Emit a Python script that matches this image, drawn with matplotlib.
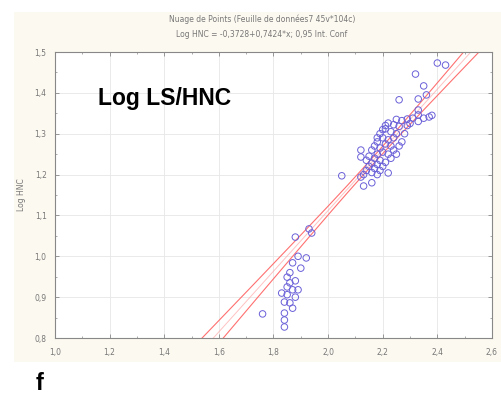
import numpy as np
import matplotlib
matplotlib.use("Agg")
import matplotlib.pyplot as plt
from matplotlib.patches import Rectangle

# Log LS vs Log HNC scatter, upper (main) group
ls_hi = [2.40, 2.43, 2.32, 2.35, 2.36, 2.33, 2.26, 2.33, 2.33, 2.37, 2.35, 2.38,
         2.25, 2.27, 2.29, 2.31, 2.33, 2.22, 2.24, 2.26, 2.21, 2.23, 2.25, 2.19,
         2.20, 2.22, 2.24, 2.18, 2.21, 2.23, 2.17, 2.19, 2.20, 2.22, 2.16, 2.18,
         2.12, 2.12, 2.15, 2.17, 2.19, 2.21, 2.14, 2.16, 2.18, 2.20, 2.15, 2.17,
         2.19, 2.14, 2.16, 2.22, 2.18, 2.13, 2.05, 2.12, 2.16, 2.13, 2.27, 2.28,
         2.24, 2.26, 2.21, 2.29, 2.30, 2.23, 2.25, 2.18, 2.20]
hnc_hi = [1.473, 1.468, 1.446, 1.417, 1.395, 1.385, 1.383, 1.358, 1.346, 1.341, 1.338, 1.345,
          1.335, 1.332, 1.336, 1.338, 1.330, 1.326, 1.322, 1.318, 1.312, 1.305, 1.300, 1.300,
          1.290, 1.285, 1.290, 1.280, 1.275, 1.270, 1.270, 1.265, 1.255, 1.250, 1.260, 1.250,
          1.260, 1.243, 1.245, 1.240, 1.235, 1.230, 1.235, 1.228, 1.225, 1.220, 1.220, 1.215,
          1.210, 1.210, 1.205, 1.204, 1.200, 1.200, 1.197, 1.194, 1.180, 1.172, 1.280, 1.300,
          1.260, 1.270, 1.320, 1.320, 1.325, 1.240, 1.250, 1.290, 1.310]
# lower group
ls_lo = [1.93, 1.94, 1.88, 1.89, 1.92, 1.87, 1.90, 1.85, 1.86, 1.89, 1.87, 1.85,
         1.84, 1.86, 1.87, 1.76, 1.84, 1.84, 1.84, 1.88, 1.86, 1.85, 1.88, 1.83]
hnc_lo = [1.067, 1.057, 1.047, 1.000, 0.996, 0.984, 0.971, 0.949, 0.935, 0.918, 0.918, 0.906,
          0.888, 0.886, 0.873, 0.859, 0.861, 0.844, 0.827, 0.940, 0.960, 0.925, 0.900, 0.910]

x = np.array(ls_hi + ls_lo)
y = np.array(hnc_hi + hnc_lo)

# fitted equation shown in the header
b0, b1 = -0.3728, 0.7424

# 95% confidence band around the fit (residual spread taken from a least-squares fit)
n = len(x)
p = np.polyfit(x, y, 1)
resid = y - np.polyval(p, x)
s = np.sqrt((resid ** 2).sum() / (n - 2))
sxx = ((x - x.mean()) ** 2).sum()
xx = np.linspace(1.0, 2.6, 200)
fit = b0 + b1 * xx
half = 1.985 * s * np.sqrt(1 / n + (xx - x.mean()) ** 2 / sxx)

fig = plt.figure(figsize=(5.02, 4.05), dpi=100)
fig.patches.append(Rectangle((0.028, 0.106), 0.972, 0.864, transform=fig.transFigure,
                             facecolor="#fcf9f0", edgecolor="none", zorder=-1))

ax = fig.add_axes([0.1096, 0.1654, 0.8704, 0.7062])
ax.set_facecolor("white")
ax.plot(xx, fit, color="#ff9a9a", lw=0.7, alpha=0.6)
ax.plot(xx, fit - half, color="#ff7070", lw=0.8)
ax.plot(xx, fit + half, color="#ff7070", lw=0.8)
ax.scatter(x, y, s=22, facecolors="none", edgecolors="#6a60d8", linewidths=0.7, zorder=3)

ax.set_xlim(1.0, 2.6)
ax.set_ylim(0.8, 1.5)
ax.set_xticks(np.arange(1.0, 2.61, 0.2))
ax.set_yticks(np.arange(0.8, 1.51, 0.1))
ax.set_xticklabels([f"{v:.1f}".replace(".", ",") for v in np.arange(1.0, 2.61, 0.2)])
ax.set_yticklabels([f"{v:.1f}".replace(".", ",") for v in np.arange(0.8, 1.51, 0.1)])
ax.set_xticks(np.arange(1.0, 2.61, 0.1), minor=True)
ax.set_yticks(np.arange(0.8, 1.51, 0.05), minor=True)
ax.tick_params(which="both", direction="in", top=True, right=True,
               colors="#888888", labelsize=5.5, labelcolor="#777777")
ax.tick_params(which="major", length=3, width=0.6)
ax.tick_params(which="minor", length=1.5, width=0.5)
ax.tick_params(axis="x", pad=7)
ax.tick_params(axis="y", pad=6)
ax.grid(True, color="#e6e6e6", lw=0.6)
for sp in ax.spines.values():
    sp.set_color("#888888")
    sp.set_linewidth(0.8)

ax.set_ylabel("Log HNC", fontsize=5.5, color="#777777", labelpad=6)

fig.text(0.522, 0.953, "Nuage de Points (Feuille de données7 45v*104c)",
         ha="center", va="center", fontsize=5.5, color="#777777")
fig.text(0.522, 0.914, "Log HNC = -0,3728+0,7424*x; 0,95 Int. Conf",
         ha="center", va="center", fontsize=5.5, color="#777777")

fig.text(0.195, 0.758, "Log LS/HNC", ha="left", va="center", fontsize=16.5,
         fontweight="bold", family="Liberation Sans", color="black")
fig.text(0.07, 0.052, "f", ha="left", va="center", fontsize=17,
         fontweight="bold", family="Liberation Sans", color="black")

fig.savefig("out.png", dpi=100)
